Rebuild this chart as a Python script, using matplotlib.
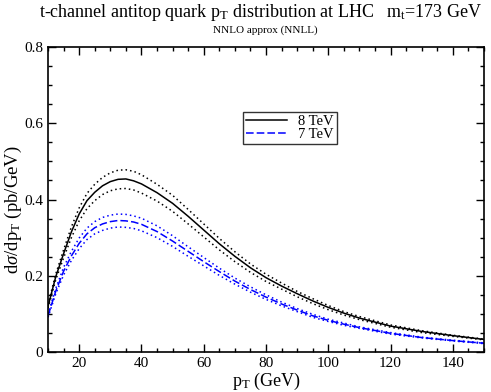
import matplotlib
matplotlib.use('Agg')
import matplotlib.pyplot as plt
from matplotlib.ticker import MultipleLocator

plt.rcParams.update({
    'font.family': 'Liberation Serif',
    'mathtext.fontset': 'custom',
    'mathtext.rm': 'Liberation Serif',
    'mathtext.it': 'Liberation Serif:italic',
    'mathtext.sf': 'Liberation Serif',
})

# pT grid (GeV)
pt = [10, 12.5, 15, 17.5, 20, 22.5, 25, 27.5, 30, 32.5, 35, 37.5, 40, 45, 50,
      55, 60, 65, 70, 75, 80, 85, 90, 95, 100, 105, 110, 120, 130, 140, 150]

# 8 TeV: central, upper and lower scale variation
tev8 = [0.120, 0.198, 0.258, 0.315, 0.362, 0.397, 0.419, 0.436, 0.447, 0.453, 0.454,
        0.449, 0.441, 0.418, 0.390, 0.356, 0.320, 0.284, 0.251, 0.221, 0.195, 0.173,
        0.153, 0.134, 0.117, 0.102, 0.089, 0.068, 0.054, 0.043, 0.033]
tev8_up = [0.125, 0.205, 0.268, 0.328, 0.378, 0.416, 0.440, 0.458, 0.470, 0.477, 0.478,
           0.474, 0.465, 0.440, 0.411, 0.374, 0.336, 0.298, 0.263, 0.231, 0.204, 0.181,
           0.159, 0.140, 0.122, 0.106, 0.093, 0.071, 0.056, 0.044, 0.034]
tev8_lo = [0.115, 0.190, 0.247, 0.300, 0.344, 0.376, 0.397, 0.413, 0.423, 0.428, 0.429,
           0.425, 0.417, 0.396, 0.369, 0.336, 0.302, 0.268, 0.237, 0.209, 0.185, 0.165,
           0.145, 0.127, 0.111, 0.097, 0.085, 0.065, 0.051, 0.041, 0.032]

# 7 TeV
tev7 = [0.095, 0.160, 0.212, 0.252, 0.285, 0.310, 0.326, 0.336, 0.342, 0.345, 0.344,
        0.341, 0.335, 0.316, 0.291, 0.264, 0.237, 0.211, 0.186, 0.164, 0.144, 0.126,
        0.110, 0.095, 0.083, 0.073, 0.064, 0.049, 0.038, 0.030, 0.023]
tev7_up = [0.099, 0.167, 0.222, 0.264, 0.299, 0.325, 0.342, 0.353, 0.359, 0.362, 0.361,
           0.357, 0.351, 0.331, 0.305, 0.276, 0.248, 0.220, 0.194, 0.171, 0.150, 0.131,
           0.114, 0.099, 0.086, 0.076, 0.066, 0.051, 0.039, 0.031, 0.024]
tev7_lo = [0.091, 0.153, 0.202, 0.240, 0.271, 0.295, 0.310, 0.319, 0.325, 0.328, 0.327,
           0.324, 0.318, 0.300, 0.277, 0.251, 0.226, 0.201, 0.178, 0.157, 0.138, 0.121,
           0.106, 0.091, 0.080, 0.070, 0.062, 0.047, 0.037, 0.029, 0.022]

fig = plt.figure(figsize=(4.91, 3.92), dpi=100)
ax = fig.add_axes([0.0978, 0.102, 0.888, 0.778])

dot = (0, (1, 2))
ax.plot(pt, tev8, color='black', lw=1.1, label='8 TeV')
ax.plot(pt, tev8_up, color='black', lw=1.1, ls=dot)
ax.plot(pt, tev8_lo, color='black', lw=1.1, ls=dot)
ax.plot(pt, tev7, color='blue', lw=1.1, ls=(0, (5, 2)), label='7 TeV')
ax.plot(pt, tev7_up, color='blue', lw=1.1, ls=dot)
ax.plot(pt, tev7_lo, color='blue', lw=1.1, ls=dot)

ax.set_xlim(10, 150)
ax.set_ylim(0, 0.8)
ax.xaxis.set_major_locator(MultipleLocator(20))
ax.xaxis.set_minor_locator(MultipleLocator(5))
ax.yaxis.set_minor_locator(MultipleLocator(0.05))
ax.set_yticks([0, 0.2, 0.4, 0.6, 0.8])
ax.set_yticklabels(['0', '0.2', '0.4', '0.6', '0.8'])
ax.tick_params(which='both', direction='in', top=True, right=True, labelsize=11)
ax.tick_params(which='major', length=6, width=1)
ax.tick_params(which='minor', length=3, width=1)
for s in ax.spines.values():
    s.set_linewidth(1.2)

ax.set_xlabel(r'p$_\mathrm{T}$ (GeV)', fontsize=13, labelpad=1)
ax.set_ylabel(r'd$\sigma$/dp$_\mathrm{T}$ (pb/GeV)', fontsize=13.5)
ax.yaxis.set_label_coords(-0.056, 0.466)

fig.text(0.53, 0.968, r't-channel antitop quark p$_\mathrm{T}$ distribution at LHC   m$_\mathrm{t}$=173 GeV',
         ha='center', va='center', fontsize=13)
fig.text(0.54, 0.922, 'NNLO approx (NNLL)', ha='center', va='center', fontsize=8)

leg = ax.legend(loc='upper left', bbox_to_anchor=(0.447, 0.787), fontsize=10.5,
                frameon=True, fancybox=False, edgecolor='black', handlelength=2.8,
                borderpad=0.2, labelspacing=0.0, handletextpad=0.8, borderaxespad=0)
leg.get_frame().set_linewidth(1.0)

fig.savefig('out.png', dpi=100)
